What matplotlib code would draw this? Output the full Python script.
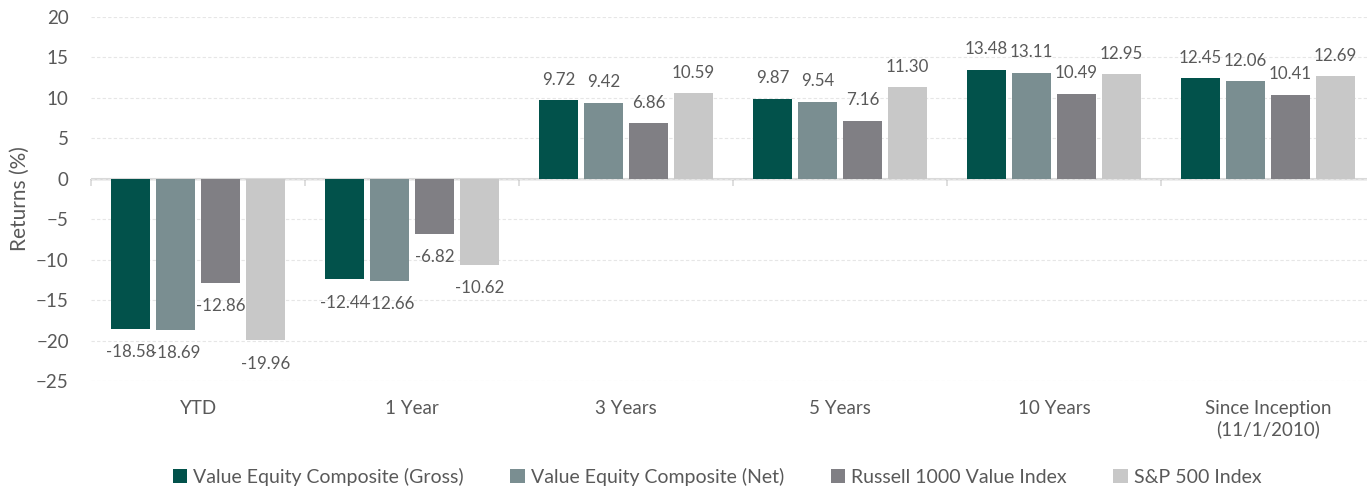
import matplotlib.pyplot as plt
import numpy as np

categories = ['YTD', '1 Year', '3 Years', '5 Years', '10 Years', 'Since Inception\n(11/1/2010)']
series_names = ['Value Equity Composite (Gross)', 'Value Equity Composite (Net)',
                'Russell 1000 Value Index', 'S&P 500 Index']
gross = [-18.58, -12.44, 9.72, 9.87, 13.48, 12.45]
net = [-18.69, -12.66, 9.42, 9.54, 13.11, 12.06]
russell = [-12.86, -6.82, 6.86, 7.16, 10.49, 10.41]
sp500 = [-19.96, -10.62, 10.59, 11.30, 12.95, 12.69]
colors = ['#02524B', '#7A8E91', '#807F84', '#C8C8C8']

plt.rcParams['font.family'] = ['Lato', 'DejaVu Sans']
text_col = '#595959'

fig = plt.figure(figsize=(13.67, 4.87), dpi=100)
ax = fig.add_axes([91 / 1367, 106 / 487, 1 - 91 / 1367, (381 - 17) / 487])

x = np.arange(len(categories))
pitch = 0.21
width = 0.182
for i, (vals, name) in enumerate(zip([gross, net, russell, sp500], series_names)):
    pos = x + (i - 1.5) * pitch
    bars = ax.bar(pos, vals, width, color=colors[i], label=name, zorder=2)
    for b, v in zip(bars, vals):
        off = 9 if v >= 0 else -11
        ax.annotate(f'{v:.2f}', (b.get_x() + b.get_width() / 2, v),
                    xytext=(0, off), textcoords='offset points',
                    ha='center', va='bottom' if v >= 0 else 'top',
                    fontsize=12.2, color=text_col)

ymin, ymax = -25, 20
ax.set_ylim(ymin, ymax)
ax.set_yticks(range(-25, 21, 5))
ax.set_xlim(-0.5, -0.5 + (1367 - 91) / 214)
ax.set_xticks(x)
ax.set_xticklabels(categories, fontsize=13.5, color=text_col)
ax.tick_params(axis='x', length=0, pad=14)
ax.tick_params(axis='y', length=0, labelsize=13.5, labelcolor=text_col, pad=16)
ax.grid(axis='y', color='#E6E6E6', linestyle=(0, (3, 2)), linewidth=0.8, zorder=0)
for s in ax.spines.values():
    s.set_visible(False)
ax.axhline(0, color='#D9D9D9', linewidth=1.5, zorder=1)

# category boundary ticks on the zero line
sec = ax.secondary_xaxis((0 - ymin) / (ymax - ymin))
sec.set_xticks(np.arange(-0.5, 6, 1))
sec.set_xticklabels([])
sec.tick_params(length=5, direction='in', color='#D9D9D9', width=1.2)
sec.spines['bottom'].set_visible(False)

ax.set_ylabel('Returns (%)', fontsize=15, color=text_col, labelpad=4)

fig.legend(loc='center', bbox_to_anchor=(0.5245, 10 / 487), ncol=4, frameon=False,
           fontsize=14, handlelength=0.75, handleheight=0.75, handletextpad=0.3,
           columnspacing=2.4, labelcolor=text_col)

fig.savefig('out.png', dpi=100)
